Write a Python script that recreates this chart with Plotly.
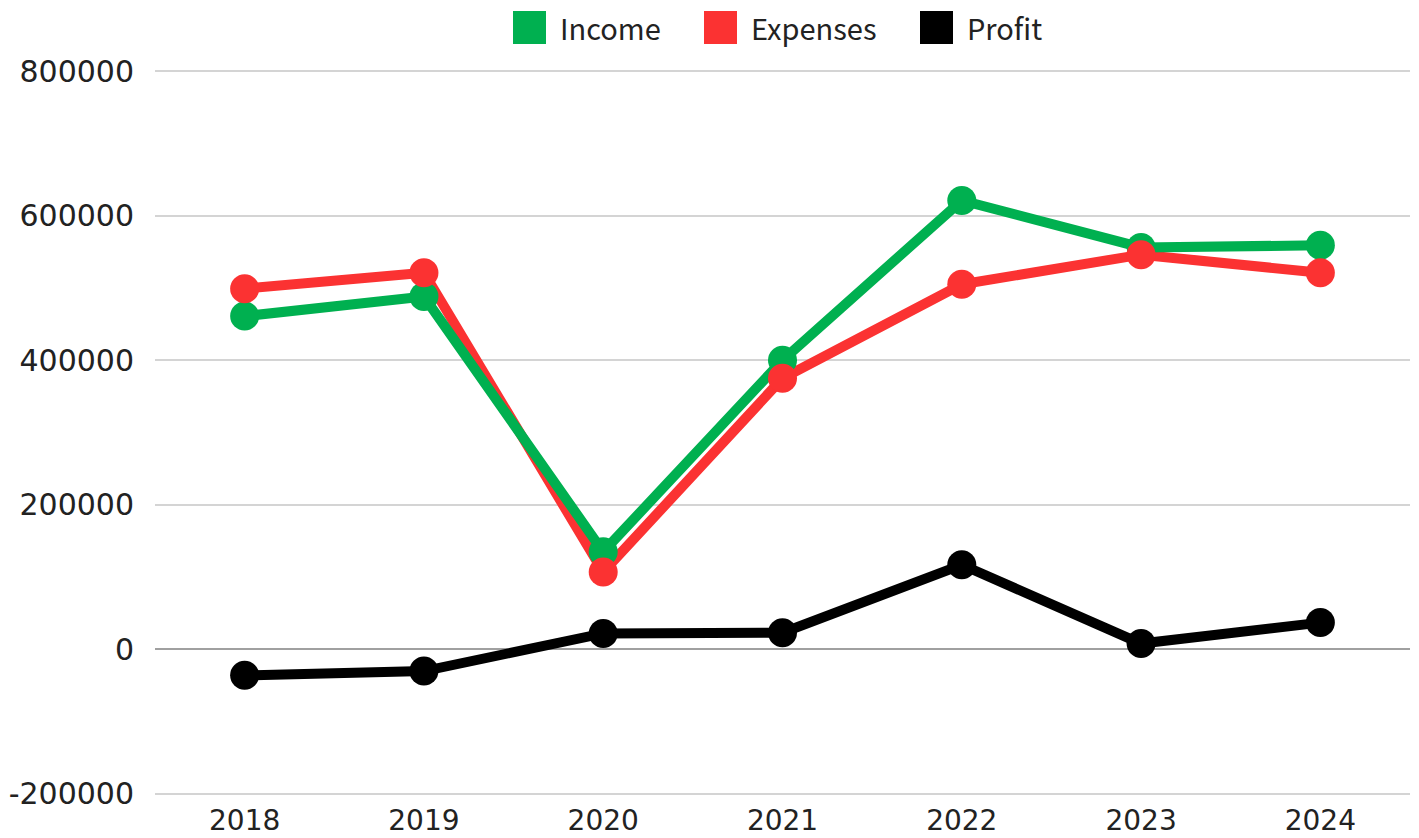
import plotly.graph_objects as go

years = ["2018", "2019", "2020", "2021", "2022", "2023", "2024"]
income = [461000, 488000, 135000, 400000, 621000, 556000, 559000]
expenses = [499000, 521000, 107000, 375000, 505000, 546000, 521000]
profit = [-36000, -30000, 22000, 23000, 117000, 8000, 37000]
y_ticks = [-200000, 0, 200000, 400000, 600000, 800000]

GREEN = "#00b050"
RED = "#fb3232"
BLACK = "#000000"
FONT = "DejaVu Sans, Arial, sans-serif"
LEG_FONT = "Noto Sans CJK SC, Noto Sans, sans-serif"

W, H = 1419, 838
# plot area in pixels: x 155..1410, y 70..795
L, R, T, B = 155, W - 1410, 70, H - 795

fig = go.Figure()

# lines first (red under green), then markers (red over green)
fig.add_trace(go.Scatter(x=years, y=expenses, mode="lines", line=dict(color=RED, width=10), showlegend=False))
fig.add_trace(go.Scatter(x=years, y=income, mode="lines", line=dict(color=GREEN, width=10), showlegend=False))
fig.add_trace(go.Scatter(x=years, y=income, mode="markers", marker=dict(color=GREEN, size=29), showlegend=False))
fig.add_trace(go.Scatter(x=years, y=expenses, mode="markers", marker=dict(color=RED, size=29), showlegend=False))
fig.add_trace(go.Scatter(x=years, y=profit, mode="lines+markers", line=dict(color=BLACK, width=10),
                         marker=dict(color=BLACK, size=29), showlegend=False))


def px(x):
    return (x - L) / (W - L - R)


def py(y):
    return 1 - (y - T) / (H - T - B)


# custom legend with large square swatches
legend = [("Income", GREEN, 513), ("Expenses", RED, 704), ("Profit", BLACK, 920)]
for name, color, x0 in legend:
    fig.add_shape(type="rect", xref="paper", yref="paper",
                  x0=px(x0), x1=px(x0 + 33), y0=py(44), y1=py(11),
                  fillcolor=color, line=dict(width=0))
    fig.add_annotation(text=name, xref="paper", yref="paper", x=px(x0 + 45), y=py(27),
                       xanchor="left", yanchor="middle", showarrow=False,
                       font=dict(size=29, color="#222222", family=LEG_FONT))

fig.update_layout(
    width=W, height=H,
    margin=dict(l=L, r=R, t=T, b=B),
    paper_bgcolor="white", plot_bgcolor="white",
    font=dict(family=FONT, size=29, color="#222222"),
    showlegend=False,
)
fig.update_xaxes(type="category", range=[-0.5, 6.5], showgrid=False, showline=False, automargin=False,
                 ticks="", ticklabelstandoff=6, tickfont=dict(size=28))
# tiny padding so the edge grid lines at 800000 / -200000 are kept
fig.update_yaxes(range=[-201500, 801500], tickvals=y_ticks, ticktext=[str(v) for v in y_ticks],
                 showgrid=True, gridcolor="#d4d4d4", gridwidth=1.5, automargin=False,
                 zeroline=True, zerolinecolor="#a0a0a0", zerolinewidth=2,
                 ticks="", ticklabelstandoff=20, tickfont=dict(size=30))

fig.write_html("out.html", config={"displayModeBar": False},
               post_script="document.body.style.margin='0';")
